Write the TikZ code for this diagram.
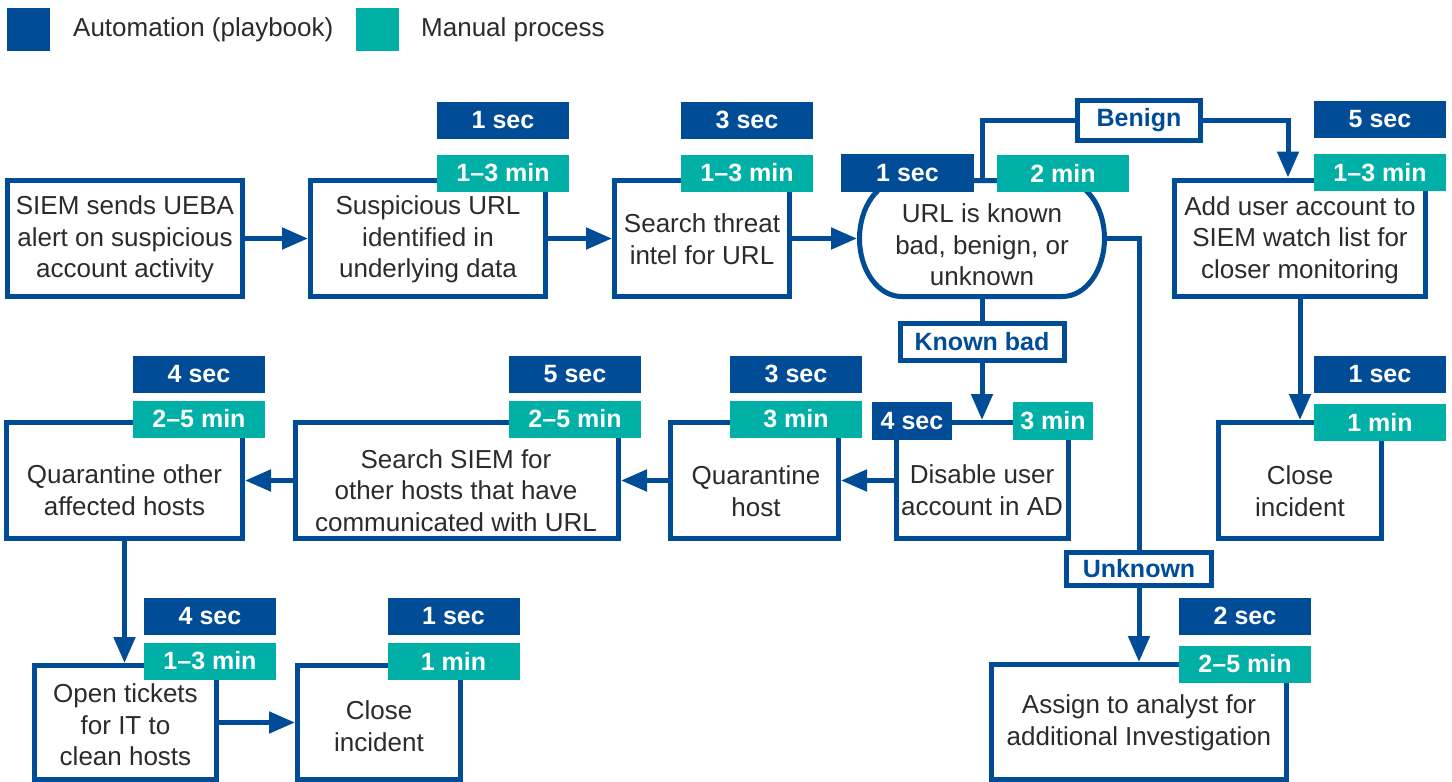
\documentclass[tikz,border=0pt]{standalone}
\usepackage{fontspec}
\setmainfont{Liberation Sans}
\usetikzlibrary{arrows.meta,calc}
\definecolor{kblue}{HTML}{004C97}
\definecolor{kteal}{HTML}{00B0A7}
\definecolor{kgrey}{HTML}{2B2B2B}
\tikzset{
  box/.style={draw=kblue, line width=5pt, fill=white, inner sep=0pt},
  anchorbox/.style={inner sep=0pt, outer sep=2.5pt},
  txt/.style={text=kgrey, font=\fontsize{26}{31.5}\selectfont, align=center, inner sep=0pt},
  legtxt/.style={text=kgrey, font=\fontsize{26}{31.5}\selectfont, inner sep=0pt, anchor=west},
  badge/.style={text=white, font=\bfseries\fontsize{25}{30}\selectfont, inner sep=0pt,
                minimum width=132pt, minimum height=37pt},
  secb/.style={badge, fill=kblue},
  minb/.style={badge, fill=kteal},
  tag/.style={draw=kblue, line width=5pt, fill=white, text=kblue,
              font=\bfseries\fontsize{25}{30}\selectfont, inner sep=0pt},
  link/.style={draw=kblue, line width=5pt},
  flow/.style={link, -{Triangle[length=26pt,width=21pt]}},
}
\begin{document}
\begin{tikzpicture}[x=1pt, y=-1pt]
\useasboundingbox[fill=white] (0,0) rectangle (1452,782);

% legend
\node[fill=kblue, minimum width=43pt, minimum height=43pt, inner sep=0pt] (legA) at (28.5,29.5) {};
\node[legtxt] (legAt) at (73,30) {Automation (playbook)};
\node[fill=kteal, minimum width=43pt, minimum height=43pt, inner sep=0pt] (legM) at (377.5,29.5) {};
\node[legtxt] (legMt) at (421,30) {Manual process};

% process boxes
\node[box, minimum width=235pt, minimum height=116pt] (A) at (125,238.5) {};
\node[box, minimum width=235pt, minimum height=116pt] (B) at (428,238.5) {};
\node[box, minimum width=175pt, minimum height=116pt] (C) at (702,238.5) {};
\node[anchorbox, minimum width=245pt, minimum height=116pt] (D) at (982,238.5) {};
\draw[link, fill=white] (901.5,180.5) -- (1062.5,180.5)
  .. controls (1085.7,180.5) and (1104.5,206.5) .. (1104.5,238.5)
  .. controls (1104.5,270.5) and (1085.7,296.5) .. (1062.5,296.5)
  -- (901.5,296.5)
  .. controls (878.3,296.5) and (859.5,270.5) .. (859.5,238.5)
  .. controls (859.5,206.5) and (878.3,180.5) .. (901.5,180.5) -- cycle;
\node[box, minimum width=251pt, minimum height=116pt] (E) at (1300,238) {};
\node[box, minimum width=163pt, minimum height=116pt] (F) at (1300,480.5) {};
\node[box, minimum width=172pt, minimum height=116pt] (G) at (982,480.5) {};
\node[box, minimum width=168pt, minimum height=116pt] (H) at (754.5,480.5) {};
\node[box, minimum width=323pt, minimum height=116pt] (I) at (457,480.5) {};
\node[box, minimum width=236pt, minimum height=116pt] (J) at (124.5,480.5) {};
\node[box, minimum width=182pt, minimum height=114pt] (K) at (125.5,722.5) {};
\node[box, minimum width=163pt, minimum height=114pt] (L) at (379,722.5) {};
\node[box, minimum width=295pt, minimum height=115pt] (M) at (1139,722) {};

% box texts
\node[txt] (At) at (125,239.5) {SIEM sends UEBA\\alert on suspicious\\account activity};
\node[txt] (Bt) at (428,239.5) {Suspicious URL\\identified in\\underlying data};
\node[txt] (Ct) at (702,239) {Search threat\\intel for URL};
\node[txt] (Dt) at (982,245) {URL is known\\bad, benign, or\\unknown};
\node[txt] (Et) at (1300,240) {Add user account to\\SIEM watch list for\\closer monitoring};
\node[txt] (Ft) at (1300,491) {Close\\incident};
\node[txt] (Gt) at (982,490) {Disable user\\account in AD};
\node[txt] (Ht) at (756,491) {Quarantine\\host};
\node[txt] (It) at (456,490.5) {Search SIEM for\\other hosts that have\\communicated with URL};
\node[txt] (Jt) at (124.5,490) {Quarantine other\\affected hosts};
\node[txt] (Kt) at (125.5,725) {Open tickets\\for IT to\\clean hosts};
\node[txt] (Lt) at (379,726) {Close\\incident};
\node[txt] (Mt) at (1139,723) {Assign to analyst for\\additional Investigation};

% decision labels
\node[tag, minimum width=123pt, minimum height=40pt] (Bn) at (1139,120.5) {Benign};
\node[tag, minimum width=164pt, minimum height=37pt] (Kb) at (982,342) {Known bad};
\node[tag, minimum width=145pt, minimum height=33pt] (Un) at (1139,569) {Unknown};

% connectors
\draw[flow] (A.east) -- (A.east -| B.west);
\draw[flow] (B.east) -- (B.east -| C.west);
\draw[flow] (C.east) -- (C.east -| D.west);
\draw[link] (D.north) |- (Bn.west);
\draw[flow] (Bn.east) -| ([xshift=-12pt]E.north);
\draw[link] (D.south) -- (Kb.north);
\draw[flow] (Kb.south) -- (G.north);
\draw[link] (D.east) -| (Un.north);
\draw[flow] (Un.south) -- (M.north);
\draw[flow] (E.south) -- (F.north);
\draw[flow] (G.west) -- (G.west -| H.east);
\draw[flow] (H.west) -- (H.west -| I.east);
\draw[flow] (I.west) -- (I.west -| J.east);
\draw[flow] (J.south) -- (J.south |- K.north);
\draw[flow] (K.east) -- (K.east -| L.west);

% timing badges
\node[secb] (Bs) at (503,120) {1 sec};
\node[minb] (Bm) at (503,173) {1–3 min};
\node[secb] (Cs) at (747,120) {3 sec};
\node[minb] (Cm) at (747,173) {1–3 min};
\node[secb, minimum width=133pt, minimum height=38pt] (Ds) at (907.5,173) {1 sec};
\node[minb] (Dm) at (1063,173.5) {2 min};
\node[secb] (Es) at (1380,119.5) {5 sec};
\node[minb] (Em) at (1380,172.5) {1–3 min};
\node[secb] (Fs) at (1380,374) {1 sec};
\node[minb] (Fm) at (1380,422) {1 min};
\node[secb, minimum width=80pt, minimum height=38pt] (Gs) at (912,421) {4 sec};
\node[minb, minimum width=80pt, minimum height=38pt] (Gm) at (1053,421) {3 min};
\node[secb] (Hs) at (796,374) {3 sec};
\node[minb] (Hm) at (796,419) {3 min};
\node[secb] (Is) at (575,374) {5 sec};
\node[minb] (Im) at (575,419) {2–5 min};
\node[secb] (Js) at (199,374) {4 sec};
\node[minb] (Jm) at (199,419) {2–5 min};
\node[secb] (Ks) at (210,616) {4 sec};
\node[minb] (Km) at (210,661) {1–3 min};
\node[secb] (Ls) at (453.5,616) {1 sec};
\node[minb] (Lm) at (453.5,661) {1 min};
\node[secb] (Ms) at (1245,616) {2 sec};
\node[minb] (Mm) at (1245,664) {2–5 min};
\end{tikzpicture}
\end{document}
